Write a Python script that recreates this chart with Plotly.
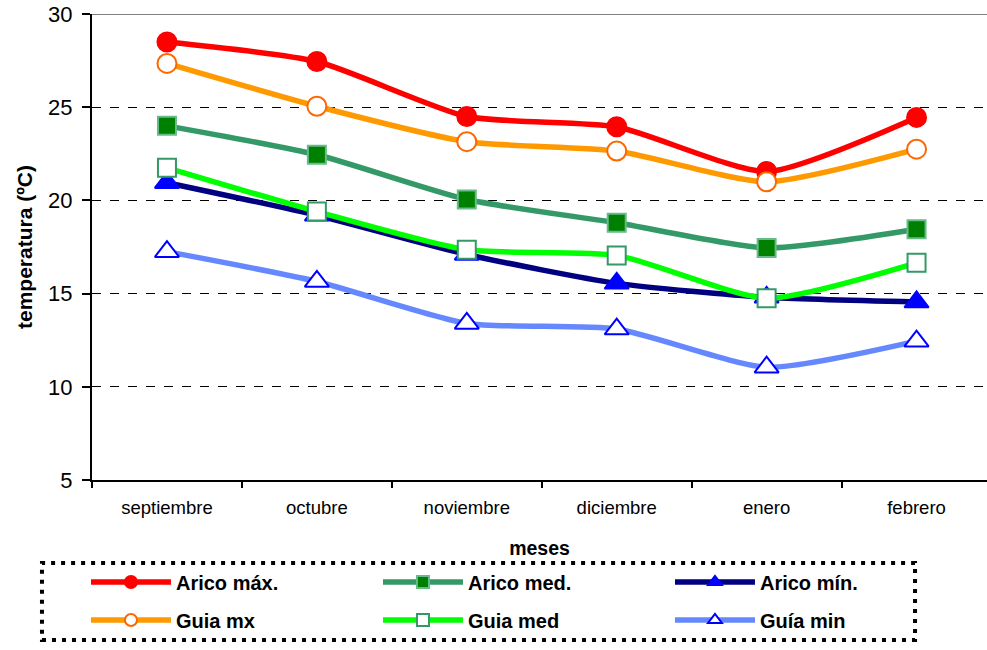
import plotly.graph_objects as go

meses = ["septiembre", "octubre", "noviembre", "diciembre", "enero", "febrero"]
arico_max = [28.5, 27.45, 24.5, 23.95, 21.55, 24.45]
arico_med = [24.0, 22.45, 20.05, 18.8, 17.45, 18.45]
arico_min = [20.95, 19.2, 17.1, 15.55, 14.8, 14.55]
guia_mx = [27.35, 25.05, 23.15, 22.65, 21.0, 22.75]
guia_med = [21.75, 19.4, 17.35, 17.05, 14.75, 16.65]
guia_min = [17.25, 15.65, 13.4, 13.1, 11.05, 12.45]
y_ticks = [5, 10, 15, 20, 25, 30]

FONT = "Liberation Sans, Arial, sans-serif"

series = [
    # name, values, line color, marker symbol, marker fill, marker border, size, legend
    ("Arico máx.", arico_max, "#FF0000", "circle", "#FF0000", "#FF0000", 19, "legend"),
    ("Arico med.", arico_med, "#339966", "square", "#008000", "#66BB88", 18, "legend"),
    ("Arico mín.", arico_min, "#000080", "triangle-up", "#0000FF", "#0000FF", 21, "legend"),
    ("Guia mx", guia_mx, "#FF9900", "circle", "#FFFFFF", "#FF6600", 19, "legend2"),
    ("Guia med", guia_med, "#00FF00", "square", "#FFFFFF", "#339966", 18, "legend2"),
    ("Guía min", guia_min, "#6688FF", "triangle-up", "#FFFFFF", "#0000FF", 21, "legend2"),
]

fig = go.Figure()
for name, vals, lc, sym, fill, border, size, lg in series:
    fig.add_trace(go.Scatter(
        x=meses, y=vals, name=name, mode="lines+markers", showlegend=False,
        line=dict(color=lc, width=5.5, shape="spline", smoothing=0.6),
        marker=dict(symbol=sym, size=size, color=fill,
                    line=dict(color=border, width=2)),
    ))
# legend entries (smaller markers, as in the reference legend)
for name, vals, lc, sym, fill, border, size, lg in series:
    fig.add_trace(go.Scatter(
        x=[None], y=[None], name=name, mode="lines+markers", legend=lg,
        line=dict(color=lc, width=5.5),
        marker=dict(symbol=sym, size=12, color=fill,
                    line=dict(color=border, width=2)),
    ))

fig.add_shape(type="line", xref="paper", yref="y", x0=0, x1=1, y0=30, y1=30,
              line=dict(color="#808080", width=2), layer="below")

# dotted legend frame
fig.add_shape(type="rect", xref="paper", yref="paper",
              x0=-0.0559, x1=0.9196, y0=-0.3433, y1=-0.1781,
              line=dict(color="black", width=4, dash="4px,6px"))

legend_common = dict(orientation="h", entrywidth=197, entrywidthmode="pixels",
                     font=dict(family=FONT, size=20, color="black", weight="bold"),
                     bgcolor="rgba(0,0,0,0)", itemwidth=80,
                     xref="container", yref="container",
                     xanchor="left", yanchor="middle", traceorder="normal")

fig.update_layout(
    width=987, height=650,
    margin=dict(l=92, r=0, t=14, b=170),
    paper_bgcolor="white", plot_bgcolor="white",
    font=dict(family=FONT, color="black"),
    showlegend=True,
    legend=dict(x=0.0871, y=0.1046, **legend_common),
    legend2=dict(x=0.0871, y=0.0462, **legend_common),
    xaxis=dict(
        type="category", range=[-0.5, 5.47], automargin=False,
        showline=True, linecolor="black", linewidth=2,
        ticks="outside", ticklen=6, tickwidth=2, tickcolor="black",
        tickson="boundaries", showgrid=False, zeroline=False,
        tickfont=dict(family=FONT, size=18.5, color="black"),
        ticklabelstandoff=10,
        title=dict(text="meses", font=dict(family=FONT, size=19.5, color="black", weight="bold"),
                   standoff=24),
    ),
    yaxis=dict(
        range=[5, 30], tickvals=y_ticks, automargin=False,
        showline=True, linecolor="black", linewidth=2,
        ticks="outside", ticklen=8, tickwidth=2, tickcolor="black",
        showgrid=True, gridcolor="black", gridwidth=1, griddash="dash",
        zeroline=False, ticklabelstandoff=5,
        tickfont=dict(family=FONT, size=22, color="black"),
        title=dict(text="temperatura (ºC)", font=dict(family=FONT, size=21, color="black", weight="bold"),
                   standoff=10),
    ),
)

fig.write_html("out.html", config={"displayModeBar": False},
               post_script="document.body.style.margin='0';document.body.style.overflow='hidden';")
